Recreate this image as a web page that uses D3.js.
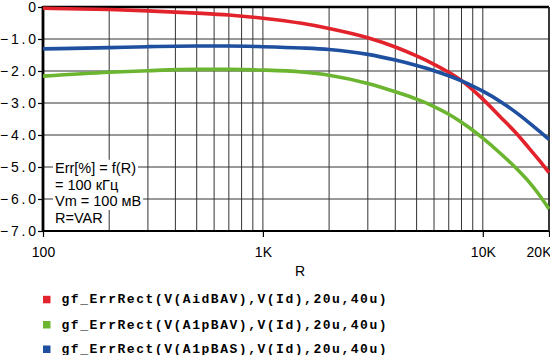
<!DOCTYPE html>
<html>
<head>
<meta charset="utf-8">
<script src="https://cdn.jsdelivr.net/npm/d3@7/dist/d3.min.js"></script>
<style>
  html, body { margin: 0; padding: 0; background: #fff; }
  svg { display: block; }
</style>
</head>
<body>
<svg id="chart" width="550" height="355"></svg>
<script>
// ---- data ----
const resistance = [100,200,300,500,700,1000,1500,2000,3000,4000,5000,6000,7000,8000,9000,10000,12000,14000,16000,18000,20000];
const errAidBAV = [-0.04,-0.08,-0.12,-0.19,-0.25,-0.35,-0.51,-0.67,-0.96,-1.25,-1.53,-1.79,-2.04,-2.30,-2.59,-2.88,-3.43,-3.90,-4.36,-4.78,-5.18];
const errA1pBAV = [-2.16,-2.04,-1.99,-1.95,-1.95,-1.97,-2.03,-2.13,-2.39,-2.65,-2.88,-3.11,-3.35,-3.60,-3.85,-4.10,-4.57,-5.00,-5.42,-5.86,-6.31];
const errA1pBAS = [-1.31,-1.27,-1.24,-1.22,-1.22,-1.24,-1.28,-1.33,-1.48,-1.66,-1.83,-1.99,-2.15,-2.31,-2.47,-2.63,-2.95,-3.27,-3.58,-3.87,-4.14];
const seriesNames = ["gf_ErrRect(V(AidBAV),V(Id),20u,40u)","gf_ErrRect(V(A1pBAV),V(Id),20u,40u)","gf_ErrRect(V(A1pBAS),V(Id),20u,40u)"];
const seriesColors = ["#e3232b","#6cb530","#1f4f9f"];
const yTicks = [0,-1,-2,-3,-4,-5,-6,-7];
const yTickLabels = ["0","-1.0","-2.0","-3.0","-4.0","-5.0","-6.0","-7.0"];
const xTicks = [100,1000,10000,20000];
const xTickLabels = ["100","1K","10K","20K"];
const xGrid = [200,300,400,500,600,700,800,900,1000,2000,3000,4000,5000,6000,7000,8000,9000,10000];
const yGrid = [-1,-2,-3,-4,-5,-6];
const xTitle = "R";
const noteLines = ["Err[%] = f(R)","= 100 кГц","Vm = 100 мВ","R=VAR"];

// ---- layout ----
const L = 43, Rt = 549, T = 7, B = 231;
const svg = d3.select("#chart");
const x = d3.scaleLog().domain([100,20000]).range([L,Rt]);
const y = d3.scaleLinear().domain([0,-7]).range([T,B]);
const font = "'Liberation Sans', Arial, Helvetica, sans-serif";

// grid
const grid = svg.append("g").attr("stroke","#333").attr("stroke-width",1);
grid.selectAll("line.v").data(xGrid).join("line").attr("class","v")
  .attr("x1",d=>x(d)).attr("x2",d=>x(d)).attr("y1",T).attr("y2",B);
grid.selectAll("line.h").data(yGrid).join("line").attr("class","h")
  .attr("x1",L).attr("x2",Rt).attr("y1",d=>y(d)).attr("y2",d=>y(d));

// note box with white backgrounds per line
const note = svg.append("g").attr("font-family",font).attr("font-size","14.5px").attr("fill","#000");
const noteBase = [173.3,189.5,206,223];
noteLines.forEach((t,i)=>{
  const g = note.append("g");
  const rect = g.append("rect").attr("fill","#fff");
  const tx = g.append("text").attr("x",55).attr("y",noteBase[i]).text(t);
  const bb = tx.node().getBBox();
  rect.attr("x",bb.x-2).attr("y",noteBase[i]-13.5).attr("width",bb.width+4).attr("height",17.5);
});

// frame
svg.append("line").attr("x1",L).attr("x2",Rt).attr("y1",T).attr("y2",T).attr("stroke","#000").attr("stroke-width",2.5);
svg.append("line").attr("x1",L).attr("x2",Rt).attr("y1",B).attr("y2",B).attr("stroke","#000").attr("stroke-width",2.2);
svg.append("line").attr("x1",L).attr("x2",L).attr("y1",T-1).attr("y2",B+1).attr("stroke","#000").attr("stroke-width",2.8);
svg.append("line").attr("x1",Rt).attr("x2",Rt).attr("y1",T).attr("y2",B).attr("stroke","#222").attr("stroke-width",1.8);

// axes
const yAxis = svg.append("g").attr("transform",`translate(${L},0)`)
  .call(d3.axisLeft(y).tickValues(yTicks).tickSize(5).tickPadding(2)
    .tickFormat((d,i)=>yTickLabels[i].replace("-","\u2212")));
yAxis.select(".domain").remove();
yAxis.selectAll(".tick line").attr("stroke","#000").attr("stroke-width",1.2);
yAxis.selectAll(".tick text").attr("font-family",font).attr("font-size","14px").attr("fill","#000")
  .each(function(d,i){ if (yTickLabels[i].length>1) d3.select(this).attr("textLength",36).attr("lengthAdjust","spacing"); });

const xAxis = svg.append("g").attr("transform",`translate(0,${B})`)
  .call(d3.axisBottom(x).tickValues(xTicks).tickSize(6).tickPadding(10)
    .tickFormat((d,i)=>xTickLabels[i]));
xAxis.select(".domain").remove();
xAxis.selectAll(".tick line").attr("stroke","#000").attr("stroke-width",1.2);
xAxis.selectAll(".tick text").attr("font-family",font).attr("font-size","14px").attr("fill","#000")
  .filter(d=>d===20000).attr("text-anchor","end").attr("dx",2);

svg.append("text").attr("x",300).attr("y",276).attr("text-anchor","middle")
  .attr("font-family",font).attr("font-size","14px").text(xTitle);

// curves
const series = [errAidBAV, errA1pBAV, errA1pBAS];
const line = d3.line().x((d,i)=>x(resistance[i])).y(d=>y(d)).curve(d3.curveMonotoneX);
const plot = svg.append("g");
plot.append("clipPath").attr("id","clip").append("rect").attr("x",L).attr("y",T-2).attr("width",Rt-L+1).attr("height",B-T+4);
const curves = plot.append("g").attr("clip-path","url(#clip)");
[0,2,1].forEach(k=>{
  curves.append("path").datum(series[k]).attr("d",line).attr("fill","none")
    .attr("stroke",seriesColors[k]).attr("stroke-width",3.6).attr("stroke-linejoin","round");
});

// legend
const legBase = [303.3,328.5,353];
const leg = svg.append("g");
seriesNames.forEach((n,i)=>{
  leg.append("rect").attr("x",43).attr("y",legBase[i]-7.5).attr("width",7.5).attr("height",7.5).attr("fill",seriesColors[i]);
  leg.append("text").attr("x",61.5).attr("y",legBase[i])
    .attr("font-family","'Liberation Mono','Courier New',monospace").attr("font-weight","bold")
    .attr("font-size","13px").attr("letter-spacing","1.53px").attr("fill","#000").text(n);
});
</script>
</body>
</html>
